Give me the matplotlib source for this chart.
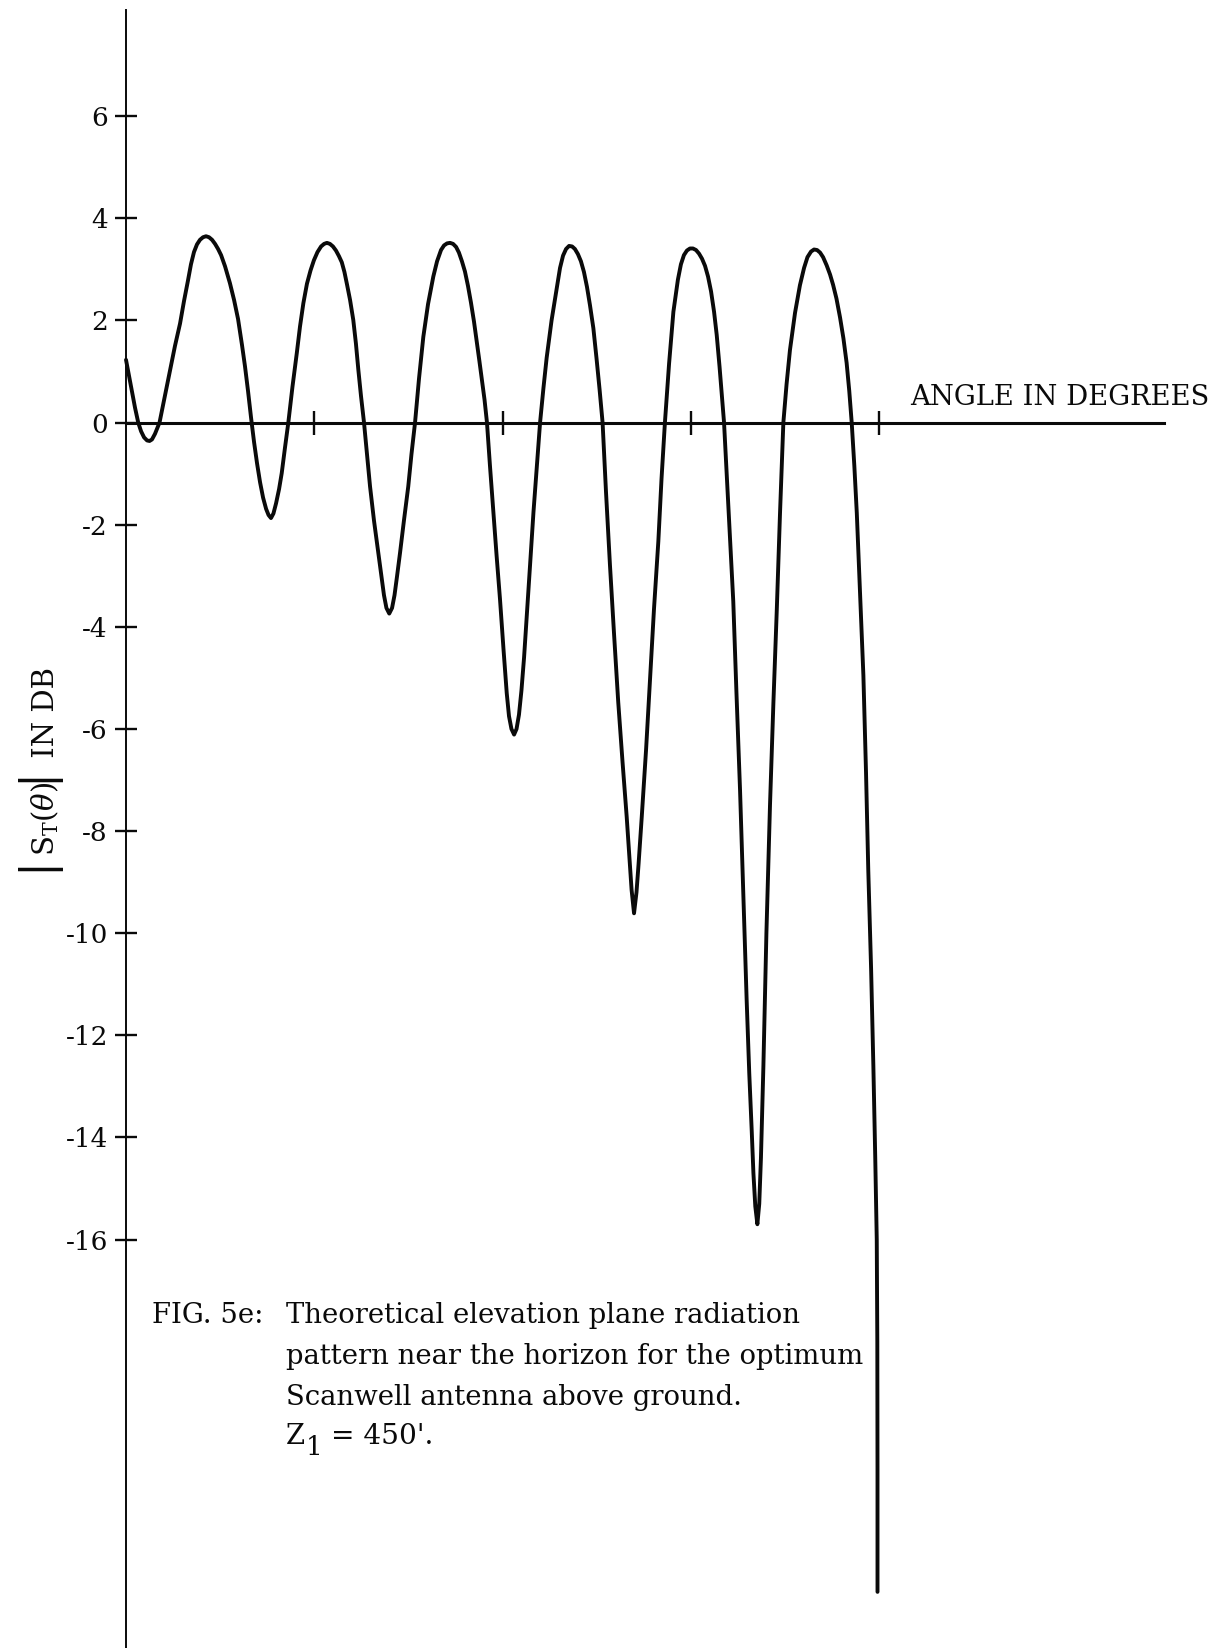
import matplotlib
matplotlib.use("Agg")
import matplotlib.pyplot as plt

# ---------------- data ----------------
angle_deg = [
    0.000, 0.016, 0.032, 0.048, 0.065, 0.080, 0.096, 0.112, 0.125, 0.138,
    0.154, 0.167, 0.178, 0.196, 0.215, 0.234, 0.260, 0.287, 0.308, 0.329,
    0.345, 0.361, 0.377, 0.393, 0.409, 0.425, 0.441, 0.457, 0.473, 0.489,
    0.505, 0.526, 0.552, 0.574, 0.595, 0.616, 0.632, 0.648, 0.664,
    0.680, 0.696, 0.712, 0.728, 0.744, 0.757, 0.770, 0.783, 0.797, 0.813, 0.827,
    0.844, 0.862, 0.884, 0.907, 0.924, 0.942, 0.961, 0.980, 0.998, 1.017,
    1.036, 1.052, 1.067, 1.083, 1.099, 1.115, 1.131, 1.146, 1.160, 1.174,
    1.190, 1.207, 1.221, 1.234, 1.248, 1.264,
    1.280, 1.296, 1.317, 1.340, 1.357, 1.370, 1.383, 1.398, 1.413, 1.426,
    1.439, 1.455, 1.476, 1.499, 1.516, 1.535, 1.556, 1.579, 1.604, 1.632,
    1.652, 1.673, 1.689, 1.705, 1.721, 1.737, 1.753, 1.768, 1.784, 1.800,
    1.816, 1.832, 1.848, 1.862, 1.877, 1.888, 1.904, 1.917,
    1.933, 1.951, 1.968, 1.986, 2.005, 2.022, 2.034, 2.047, 2.061, 2.074,
    2.087, 2.100, 2.114, 2.130, 2.146, 2.164, 2.183, 2.199, 2.217, 2.234,
    2.260, 2.287, 2.305, 2.321, 2.337, 2.353, 2.369, 2.384, 2.400, 2.416,
    2.432, 2.448, 2.464, 2.482, 2.499, 2.515, 2.531,
    2.549, 2.570, 2.592, 2.614, 2.637, 2.659, 2.674, 2.685, 2.698, 2.711,
    2.722, 2.739, 2.762, 2.783, 2.804, 2.827, 2.844, 2.862, 2.884, 2.907,
    2.931, 2.947, 2.963, 2.979, 2.995, 3.011, 3.027, 3.043, 3.059, 3.075,
    3.091, 3.107, 3.123, 3.137, 3.152, 3.165, 3.176,
    3.200, 3.225, 3.242, 3.261, 3.279, 3.296, 3.310, 3.323, 3.332, 3.342,
    3.353, 3.363, 3.372, 3.385, 3.401, 3.420, 3.438, 3.456, 3.473, 3.491,
    3.508, 3.526, 3.553, 3.579, 3.601, 3.619, 3.638, 3.654, 3.670, 3.686,
    3.702, 3.721, 3.739, 3.755, 3.773, 3.792, 3.810, 3.827, 3.841, 3.854,
    3.868, 3.881, 3.898, 3.916, 3.930, 3.942, 3.957, 3.969, 3.979, 3.987,
    3.990, 3.991, 3.991]
gain_db = [
    1.23, 0.92, 0.60, 0.29, 0.00, -0.17, -0.29, -0.35, -0.36, -0.33,
    -0.22, -0.10, 0.00, 0.33, 0.68, 1.03, 1.50, 1.94, 2.38, 2.78,
    3.10, 3.34, 3.49, 3.58, 3.63, 3.65, 3.63, 3.58, 3.50, 3.40,
    3.28, 3.06, 2.73, 2.40, 2.03, 1.52, 1.10, 0.62, 0.10,
    -0.38, -0.80, -1.17, -1.47, -1.69, -1.81, -1.87, -1.78, -1.58, -1.30, -0.99,
    -0.50, 0.00, 0.70, 1.36, 1.88, 2.34, 2.72, 2.98, 3.18, 3.34,
    3.45, 3.50, 3.52, 3.50, 3.45, 3.37, 3.26, 3.14, 2.95, 2.70,
    2.40, 2.01, 1.55, 1.03, 0.52, 0.00,
    -0.62, -1.25, -1.92, -2.56, -3.02, -3.38, -3.63, -3.74, -3.63, -3.38,
    -3.02, -2.56, -1.92, -1.25, -0.62, 0.00, 0.86, 1.68, 2.32, 2.86,
    3.16, 3.38, 3.47, 3.51, 3.52, 3.50, 3.44, 3.33, 3.16, 2.96,
    2.68, 2.35, 1.98, 1.61, 1.20, 0.90, 0.45, 0.00,
    -0.85, -1.76, -2.60, -3.45, -4.45, -5.30, -5.75, -6.00, -6.11, -6.00,
    -5.72, -5.25, -4.60, -3.70, -2.78, -1.75, -0.80, 0.00, 0.68, 1.27,
    2.00, 2.62, 3.03, 3.27, 3.40, 3.46, 3.45, 3.40, 3.30, 3.16,
    2.95, 2.66, 2.30, 1.85, 1.25, 0.65, 0.00,
    -1.35, -2.78, -4.15, -5.47, -6.65, -7.72, -8.55, -9.15, -9.61, -9.20,
    -8.65, -7.72, -6.40, -5.02, -3.65, -2.33, -1.10, 0.00, 1.15, 2.17,
    2.80, 3.10, 3.28, 3.37, 3.41, 3.41, 3.38, 3.31, 3.21, 3.07,
    2.86, 2.57, 2.17, 1.72, 1.10, 0.50, 0.00,
    -1.70, -3.50, -5.30, -7.20, -9.30, -11.30, -12.75, -13.87, -14.70, -15.35,
    -15.70, -15.30, -14.40, -12.60, -10.00, -7.50, -5.50, -3.68, -1.80, 0.00,
    0.75, 1.42, 2.15, 2.69, 3.03, 3.24, 3.35, 3.39, 3.38, 3.33,
    3.24, 3.08, 2.90, 2.70, 2.43, 2.06, 1.65, 1.17, 0.62, 0.00,
    -0.85, -1.77, -3.30, -4.95, -6.85, -8.77, -10.70, -12.60, -14.40, -16.00,
    -18.00, -20.50, -22.90]

ytick_values = [6, 4, 2, 0, -2, -4, -6, -8, -10, -12, -14, -16]
ytick_labels = ["6", "4", "2", "0", "-2", "-4", "-6", "-8", "-10", "-12", "-14", "-16"]
xtick_values = [1, 2, 3, 4]

ylabel_parts = ["|", r"$\mathrm{S}_{\mathrm{T}}(\theta)$", "|", " IN DB"]
xlabel_text = "ANGLE IN DEGREES"
caption_head = "FIG. 5e:"
caption_lines = ["Theoretical elevation plane radiation",
                 "pattern near the horizon for the optimum",
                 "Scanwell antenna above ground."]
caption_last = ["Z", "1", "= 450'."]

# ---------------- style ----------------
plt.rcParams["font.family"] = ["DejaVu Serif"]
plt.rcParams["mathtext.fontset"] = "dejavuserif"
plt.rcParams["axes.unicode_minus"] = False

W, H = 1215, 1648
fig = plt.figure(figsize=(W / 100, H / 100), dpi=100)
ax = fig.add_axes([0, 0, 1, 1])
ax.patch.set_visible(False)

px_per_deg = 188.3
px_per_db = 51.06
x0_px = 126.0
y0_px = 422.6
ax.set_xlim(-x0_px / px_per_deg, (W - x0_px) / px_per_deg)
y_bottom = (y0_px - H) / px_per_db
ax.set_ylim(y_bottom, y0_px / px_per_db)

ink = "#0a0a0a"
ax.plot(angle_deg, gain_db, color=ink, lw=2.8, solid_capstyle="round",
        solid_joinstyle="round", zorder=3)

for s in ["top", "right"]:
    ax.spines[s].set_visible(False)
ax.spines["left"].set_position(("data", 0))
ax.spines["bottom"].set_position(("data", 0))
ax.spines["left"].set_bounds(y_bottom, (y0_px - 10) / px_per_db)
ax.spines["bottom"].set_bounds(0, (1164 - x0_px) / px_per_deg)
ax.spines["left"].set_linewidth(1.4)
ax.spines["bottom"].set_linewidth(2.2)
ax.spines["left"].set_color(ink)
ax.spines["bottom"].set_color(ink)

ax.set_yticks(ytick_values, ytick_labels)
ax.set_xticks(xtick_values, [""] * len(xtick_values))
ax.tick_params(axis="y", direction="inout", length=16, width=1.7, color=ink,
               labelsize=19, pad=5, labelcolor=ink)
ax.tick_params(axis="x", direction="inout", length=17, width=1.7, color=ink)

renderer = fig.canvas.get_renderer()

# y label, built from pieces so the bars can be tall
text_size = 21
bar_size = 32
pieces = []
for p in ylabel_parts:
    is_bar = p == "|"
    xb = 47.5 if is_bar else 54.0
    t = fig.text(xb / W, 0.5, p, rotation=90, rotation_mode="anchor",
                 ha="left", va="baseline", fontsize=bar_size if is_bar else text_size,
                 color=ink)
    pieces.append(t)
lengths = [t.get_window_extent(renderer).height for t in pieces]
total = sum(lengths)
y_cur = 769 + total / 2
for t, L in zip(pieces, lengths):
    x_fig = t.get_position()[0]
    t.set_position((x_fig, 1 - y_cur / H))
    y_cur -= L

# x label
xl = fig.text(910 / W, 1 - 405 / H, xlabel_text, ha="left", va="baseline",
              fontsize=16, color=ink)
w = xl.get_window_extent(renderer).width
xl.set_fontsize(16 * 300 / w)

# caption
cap_size = 16
probe = fig.text(0, 0, caption_lines[1], fontsize=cap_size)
w = probe.get_window_extent(renderer).width
probe.remove()
cap_size = cap_size * 578 / w

baselines = [1323, 1364, 1405, 1444]
fig.text(152 / W, 1 - baselines[0] / H, caption_head, ha="left", va="baseline",
         fontsize=cap_size, color=ink)
for line, b in zip(caption_lines, baselines):
    fig.text(286 / W, 1 - b / H, line, ha="left", va="baseline",
             fontsize=cap_size, color=ink)
# last line: Z with a low, full-size subscript 1
fig.text(286 / W, 1 - baselines[3] / H, caption_last[0], ha="left", va="baseline",
         fontsize=cap_size, color=ink)
fig.text(306 / W, 1 - (baselines[3] + 11) / H, caption_last[1], ha="left",
         va="baseline", fontsize=cap_size * 0.95, color=ink)
fig.text(331 / W, 1 - baselines[3] / H, caption_last[2], ha="left", va="baseline",
         fontsize=cap_size * 1.02, color=ink)

fig.savefig("out.png", dpi=100)
